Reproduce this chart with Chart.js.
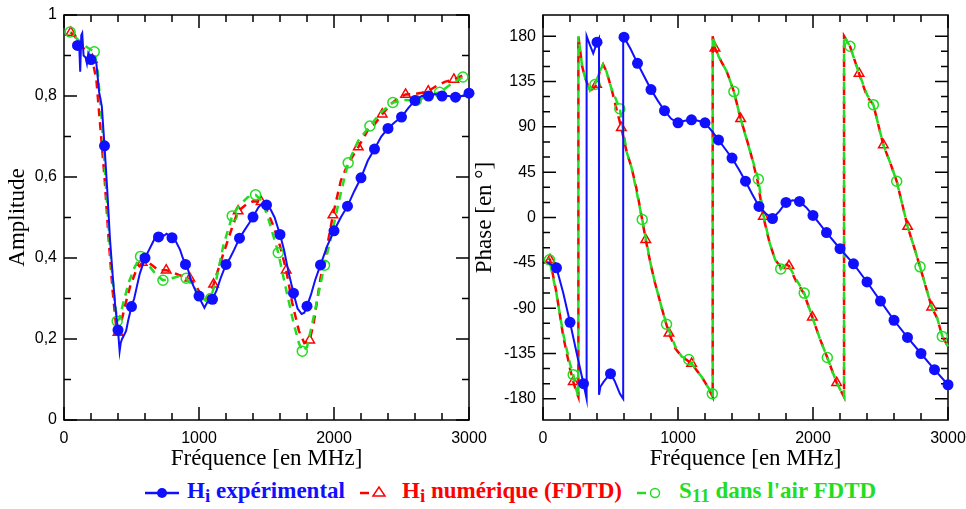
<!DOCTYPE html>
<html>
<head>
<meta charset="utf-8">
<script src="https://cdn.jsdelivr.net/npm/chart.js@4"></script>
<style>
  body { margin: 0; background: #fff; width: 966px; height: 509px; position: relative; overflow: hidden; }
  canvas { position: absolute; top: 0; }
  .leg { position: absolute; top: 478px; display: flex; align-items: center; gap: 8px;
         font: bold 23px "Liberation Serif", serif; white-space: nowrap; }
  .leg sub { font-size: 19px; vertical-align: -4px; }
</style>
</head>
<body>
<canvas id="ampChart" width="487" height="475" style="left:0"></canvas>
<canvas id="phaseChart" width="500" height="475" style="left:466px"></canvas>

<div class="leg" style="left:145px;color:#1010ff">
  <svg width="34" height="14"><line x1="0" y1="7" x2="34" y2="7" stroke="#1010ff" stroke-width="2.5"/><circle cx="17" cy="7" r="5" fill="#1010ff"/></svg>
  <span>H<sub>i</sub> expérimental</span>
</div>
<div class="leg" style="left:360px;color:#ff0000">
  <svg width="34" height="14"><line x1="0" y1="7" x2="9" y2="7" stroke="#ff0000" stroke-width="2.5"/><polygon points="13,10 19,1 25,10" fill="none" stroke="#ff0000" stroke-width="1.5"/></svg>
  <span>H<sub>i</sub> numérique (FDTD)</span>
</div>
<div class="leg" style="left:637px;color:#22dd22">
  <svg width="34" height="14"><line x1="0" y1="7" x2="9" y2="7" stroke="#22dd22" stroke-width="2.5"/><circle cx="18" cy="7" r="4.5" fill="none" stroke="#22dd22" stroke-width="1.5"/></svg>
  <span>S<sub>11</sub> dans l'air FDTD</span>
</div>

<script>
// --- amplitude (left) : [frequency MHz, value]
const ampExp = [[80,0.93],[100,0.925],[112,0.93],[120,0.86],[128,0.95],[135,0.955],[145,0.9],[160,0.895],[170,0.88],[180,0.905],[200,0.89],[220,0.895],[240,0.88],[260,0.81],[280,0.775],[300,0.677],[320,0.57],[340,0.45],[360,0.36],[380,0.28],[400,0.222],[412,0.17],[420,0.19],[430,0.2],[445,0.21],[460,0.22],[475,0.245],[500,0.28],[520,0.3],[540,0.33],[560,0.36],[580,0.38],[600,0.40],[630,0.42],[660,0.44],[680,0.455],[700,0.452],[720,0.46],[740,0.455],[760,0.46],[780,0.455],[800,0.45],[830,0.44],[860,0.42],[880,0.40],[900,0.384],[920,0.37],[940,0.345],[960,0.33],[980,0.315],[1000,0.306],[1020,0.29],[1040,0.277],[1060,0.29],[1080,0.295],[1100,0.298],[1130,0.32],[1160,0.35],[1200,0.384],[1230,0.40],[1260,0.42],[1300,0.449],[1340,0.47],[1370,0.485],[1400,0.501],[1440,0.525],[1470,0.535],[1500,0.531],[1530,0.52],[1560,0.5],[1600,0.458],[1630,0.42],[1660,0.37],[1700,0.313],[1730,0.275],[1760,0.262],[1780,0.265],[1800,0.281],[1830,0.31],[1860,0.345],[1900,0.383],[1950,0.43],[2000,0.467],[2050,0.5],[2100,0.528],[2150,0.565],[2200,0.598],[2250,0.64],[2300,0.669],[2350,0.70],[2400,0.72],[2450,0.735],[2500,0.748],[2550,0.77],[2600,0.789],[2650,0.80],[2700,0.80],[2750,0.805],[2800,0.80],[2850,0.80],[2900,0.797],[2950,0.80],[3000,0.807]];
const ampNum = [[50,0.957],[100,0.94],[150,0.915],[210,0.89],[240,0.84],[270,0.72],[300,0.6],[330,0.45],[360,0.32],[385,0.235],[400,0.216],[420,0.235],[450,0.28],[490,0.33],[530,0.365],[580,0.389],[620,0.39],[660,0.38],[700,0.37],[757,0.37],[800,0.365],[850,0.358],[932,0.35],[980,0.33],[1020,0.305],[1050,0.296],[1080,0.31],[1108,0.335],[1150,0.38],[1200,0.43],[1250,0.48],[1290,0.516],[1350,0.532],[1400,0.54],[1460,0.539],[1500,0.52],[1550,0.48],[1600,0.43],[1646,0.37],[1690,0.29],[1740,0.22],[1780,0.19],[1820,0.197],[1850,0.24],[1900,0.35],[1950,0.43],[1992,0.506],[2050,0.59],[2100,0.63],[2180,0.674],[2250,0.715],[2300,0.73],[2357,0.755],[2420,0.78],[2480,0.795],[2530,0.804],[2600,0.805],[2650,0.808],[2698,0.812],[2760,0.825],[2820,0.835],[2888,0.841],[2950,0.85]];
const ampAir = [[45,0.958],[100,0.94],[150,0.925],[224,0.909],[250,0.86],[280,0.74],[310,0.58],[340,0.43],[370,0.31],[394,0.244],[410,0.25],[440,0.29],[480,0.34],[520,0.375],[567,0.404],[620,0.385],[680,0.36],[733,0.345],[800,0.35],[850,0.355],[905,0.35],[960,0.33],[1010,0.305],[1050,0.295],[1086,0.30],[1130,0.35],[1180,0.43],[1246,0.504],[1300,0.53],[1360,0.55],[1419,0.556],[1470,0.54],[1520,0.49],[1587,0.413],[1640,0.33],[1700,0.24],[1740,0.19],[1765,0.17],[1800,0.18],[1840,0.24],[1890,0.32],[1930,0.382],[1990,0.47],[2050,0.56],[2105,0.635],[2180,0.69],[2266,0.726],[2350,0.76],[2436,0.784],[2520,0.79],[2609,0.789],[2700,0.8],[2782,0.809],[2870,0.83],[2955,0.847]];
// frequencies carrying a marker
const ampNumMarks = [50,210,400,580,757,932,1108,1290,1460,1646,1820,1992,2180,2357,2530,2698,2888];
const ampAirMarks = [45,224,394,567,733,905,1086,1246,1419,1587,1765,1930,2105,2266,2436,2609,2782,2955];

// --- phase (right) : [frequency MHz, degrees]
const phaseExp = [[30,-44],[50,-46],[100,-50],[150,-75],[200,-104],[250,-135],[300,-165],[323,-180],[323,180],[345,172],[372,163],[390,170],[400,174],[415,178],[415,-176],[425,-168],[450,-163],[480,-158],[500,-155],[530,-162],[570,-175],[594,-180],[594,180],[600,179],[650,167],[700,153],[750,140],[800,127],[850,116],[900,106],[950,98],[1000,94],[1050,96],[1100,97],[1150,96],[1200,94],[1250,86],[1300,77],[1350,68],[1400,59],[1450,48],[1500,36],[1550,23],[1600,11],[1650,4],[1700,-1],[1750,6],[1800,15],[1850,17],[1900,16],[1950,10],[2000,2],[2100,-15],[2200,-31],[2300,-46],[2400,-64],[2500,-83],[2600,-102],[2700,-119],[2800,-135],[2900,-151],[3000,-166]];
const phaseNum = [[40,-40],[52,-42],[100,-75],[150,-118],[200,-150],[224,-163],[245,-172],[262,-178],[262,180],[290,150],[311,139],[348,126],[375,128],[397,132],[420,145],[445,152],[470,145],[507,128],[540,110],[580,89],[620,65],[655,50],[690,30],[717,11],[761,-22],[800,-48],[830,-65],[880,-90],[933,-115],[980,-130],[1027,-138],[1060,-141],[1101,-145],[1140,-152],[1175,-158],[1220,-168],[1257,-178],[1257,180],[1274,168],[1320,155],[1361,145],[1414,125],[1464,98],[1500,82],[1546,60],[1590,36],[1632,1],[1678,-25],[1720,-42],[1761,-49],[1790,-46],[1822,-48],[1870,-62],[1935,-76],[1995,-99],[2050,-120],[2106,-139],[2175,-164],[2230,-178],[2230,180],[2274,170],[2341,143],[2400,120],[2447,112],[2521,72],[2570,55],[2620,36],[2701,-9],[2750,-30],[2793,-49],[2879,-89],[2920,-100],[2958,-118],[3000,-128]];
const phaseAir = [[40,-40],[48,-42],[100,-76],[150,-116],[200,-145],[224,-156],[245,-170],[262,-178],[262,180],[290,150],[311,139],[348,126],[385,132],[420,145],[445,152],[470,145],[507,128],[569,108],[620,65],[655,50],[690,28],[735,-2],[800,-48],[830,-65],[880,-90],[915,-106],[980,-128],[1027,-138],[1080,-141],[1140,-152],[1175,-158],[1220,-168],[1254,-175],[1257,-178],[1257,180],[1300,160],[1361,145],[1414,125],[1464,98],[1546,60],[1595,38],[1632,3],[1678,-25],[1720,-42],[1761,-51],[1790,-47],[1822,-48],[1870,-60],[1935,-75],[1995,-99],[2050,-120],[2106,-139],[2175,-164],[2230,-178],[2230,180],[2274,170],[2341,143],[2400,122],[2447,112],[2521,72],[2570,55],[2620,36],[2701,-9],[2750,-30],[2793,-49],[2879,-89],[2920,-100],[2958,-118],[3000,-128]];
const phaseNumMarks = [52,224,397,580,761,933,1101,1274,1464,1632,1822,1995,2175,2341,2521,2701,2879];
const phaseAirMarks = [48,224,385,569,735,915,1080,1254,1414,1595,1761,1935,2106,2274,2447,2620,2793,2958];

// tick labels
const freqTicks = [0, 1000, 2000, 3000];
const ampTicks = [0, 0.2, 0.4, 0.6, 0.8, 1];
const phaseTicks = [-180, -135, -90, -45, 0, 45, 90, 135, 180];

const BLUE = '#1010ff', RED = '#ff0000', GREEN = '#22dd22';

// black frame + inward tick marks on all four sides
const frameTicks = {
  id: 'frameTicks',
  beforeDatasetsDraw(chart, args, o) {
    const {ctx, chartArea: a, scales: {x, y}} = chart;
    ctx.save();
    ctx.strokeStyle = '#000';
    ctx.lineWidth = 1.5;
    ctx.beginPath();
    for (let v = 0; v <= 3000; v += 200) {
      const px = x.getPixelForValue(v);
      const len = v % 1000 === 0 ? 13 : 7;
      ctx.moveTo(px, a.bottom); ctx.lineTo(px, a.bottom - len);
      ctx.moveTo(px, a.top); ctx.lineTo(px, a.top + len);
    }
    for (let i = 0; i <= o.yCount; i++) {
      const v = o.yFrom + i * o.yMinor;
      const py = y.getPixelForValue(v);
      const len = i % o.yEvery === 0 ? 13 : 7;
      ctx.moveTo(a.left, py); ctx.lineTo(a.left + len, py);
      ctx.moveTo(a.right, py); ctx.lineTo(a.right - len, py);
    }
    ctx.stroke();
    ctx.strokeRect(a.left, a.top, a.right - a.left, a.bottom - a.top);
    ctx.restore();
  }
};

function pts(arr) { return arr.map(p => ({x: p[0], y: p[1]})); }

function makeSets(exp, num, air, numMarks, airMarks) {
  return [
    { data: pts(exp), borderColor: BLUE, backgroundColor: BLUE, borderWidth: 2,
      pointStyle: 'circle', pointRadius: c => (c.raw.x % 100 === 0 ? 5.5 : 0), pointBorderWidth: 0 },
    { data: pts(air), borderColor: GREEN, borderWidth: 2.5, borderDash: [8, 6], borderDashOffset: 7,
      pointStyle: 'circle', pointBackgroundColor: 'rgba(0,0,0,0)', pointBorderColor: GREEN, pointBorderWidth: 1.5,
      pointRadius: c => (airMarks.includes(c.raw.x) ? 5 : 0) },
    { data: pts(num), borderColor: RED, borderWidth: 2.5, borderDash: [8, 6],
      pointStyle: 'triangle', pointBackgroundColor: 'rgba(0,0,0,0)', pointBorderColor: RED, pointBorderWidth: 1.5,
      pointRadius: c => (numMarks.includes(c.raw.x) ? 5.5 : 0) }
  ];
}

const tickFont = {family: 'Liberation Sans', size: 16};
const titleFont = {family: 'Liberation Serif', size: 23};

function makeOptions(yMin, yMax, yTickVals, yTitle, yLabel, yAxisW, titlePad, rightPad, tickOpts) {
  return {
    responsive: false,
    animation: false,
    devicePixelRatio: 1,
    clip: false,
    layout: {padding: {top: 15, right: rightPad, left: 0, bottom: 0}},
    elements: {line: {tension: 0}},
    scales: {
      x: {
        type: 'linear', min: 0, max: 3000,
        grid: {display: false, drawTicks: false}, border: {display: false},
        afterFit: s => { s.height = 55; s.paddingLeft = 0; s.paddingRight = 0; },
        afterBuildTicks: s => { s.ticks = freqTicks.map(v => ({value: v})); },
        ticks: {font: tickFont, color: '#000', padding: 9, maxRotation: 0, autoSkip: false, callback: v => String(v)},
        title: {display: true, text: 'Fréquence [en MHz]', font: titleFont, color: '#000', padding: {top: 0, bottom: 2}}
      },
      y: {
        type: 'linear', min: yMin, max: yMax,
        grid: {display: false, drawTicks: false}, border: {display: false},
        afterFit: s => { s.width = yAxisW; s.paddingTop = 0; s.paddingBottom = 0; },
        afterBuildTicks: s => { s.ticks = yTickVals.map(v => ({value: v})); },
        ticks: {font: tickFont, color: '#000', padding: 7, autoSkip: false, callback: yLabel},
        title: {display: true, text: yTitle, font: titleFont, color: '#000', padding: {top: titlePad, bottom: 0}}
      }
    },
    plugins: {legend: {display: false}, tooltip: {enabled: false}, frameTicks: tickOpts}
  };
}

new Chart(document.getElementById('ampChart'), {
  type: 'line',
  data: {datasets: makeSets(ampExp, ampNum, ampAir, ampNumMarks, ampAirMarks)},
  options: makeOptions(0, 1, ampTicks, 'Amplitude',
    v => (v === 0 || v === 1 ? String(v) : v.toFixed(1).replace('.', ',')), 64, 4, 18,
    {yFrom: 0, yMinor: 0.1, yCount: 10, yEvery: 2}),
  plugins: [frameTicks]
});

new Chart(document.getElementById('phaseChart'), {
  type: 'line',
  data: {datasets: makeSets(phaseExp, phaseNum, phaseAir, phaseNumMarks, phaseAirMarks)},
  options: makeOptions(-201, 201, phaseTicks, 'Phase [en °]', v => String(v), 77, 5, 18,
    {yFrom: -180, yMinor: 15, yCount: 24, yEvery: 3}),
  plugins: [frameTicks]
});
</script>
</body>
</html>
